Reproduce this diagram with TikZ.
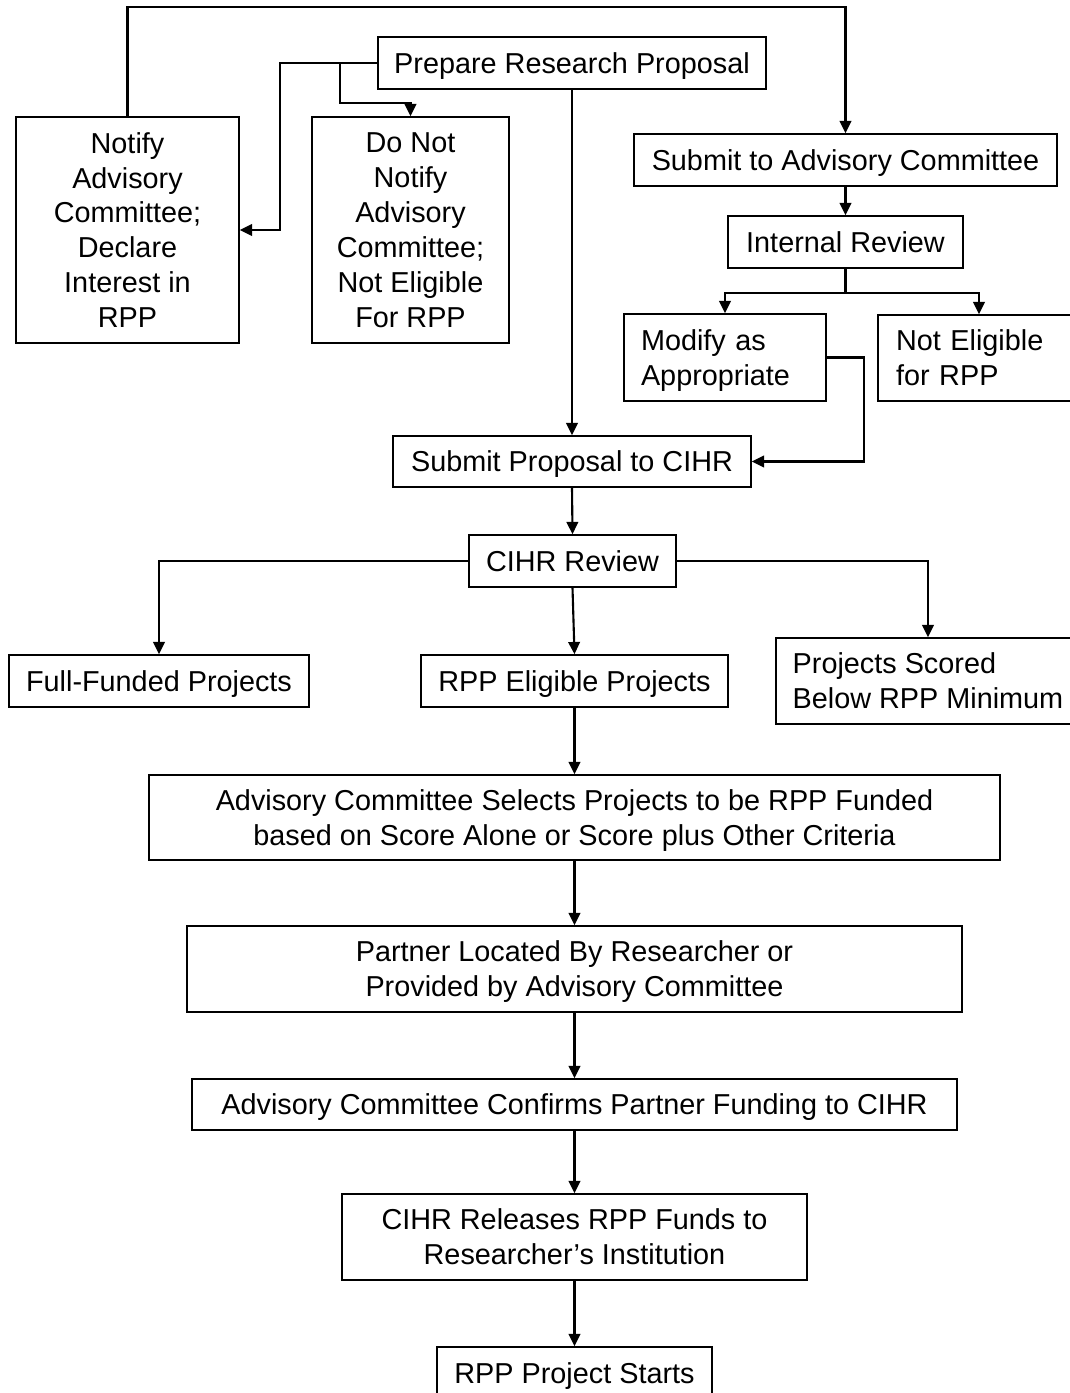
\documentclass[tikz,border=0pt]{standalone}
\usepackage{fontspec}
\setmainfont{Liberation Sans}
\usetikzlibrary{arrows.meta}

\begin{document}
\begin{tikzpicture}[x=0.02cm,y=-0.02cm,
    every node/.style={font=\fontsize{16.4}{19.9}\selectfont},
    box/.style={draw, line width=0.9pt, inner sep=0pt, text depth=0pt, align=center},
    lbox/.style={box, align=left, text depth=19.9pt},
    arr/.style={line width=1.2pt, -{Triangle[length=7pt,width=6.6pt]}}]
    \useasboundingbox (0,0) rectangle (1070,1393);
    \clip (0,0) rectangle (1070,1393);

    \node[box, minimum width=7.76cm, minimum height=1.04cm] (prep) at (572,63) {Prepare Research Proposal};
    \node[box, minimum width=4.46cm, minimum height=4.52cm] (notify) at (127.5,230)
      {Notify\\Advisory\\Committee;\\Declare\\Interest in\\RPP};
    \node[box, minimum width=3.94cm, minimum height=4.52cm] (donot) at (410.5,230)
      {Do Not\\Notify\\Advisory\\Committee;\\Not Eligible\\For RPP};
    \node[box, minimum width=8.46cm, minimum height=1.04cm] (subac) at (845.5,160) {Submit to Advisory Committee};
    \node[box, minimum width=4.7cm, minimum height=1.04cm] (intrev) at (845.5,242) {Internal Review};
    \node[lbox, text width=3.36cm, minimum width=4.04cm, minimum height=1.74cm] (modify) at (725,357.5)
      {Modify as\\Appropriate};
    \node[lbox, text width=3.32cm, minimum width=4.04cm, minimum height=1.72cm] (notel) at (979,358)
      {Not Eligible\\for RPP};
    \node[box, minimum width=7.16cm, minimum height=1.02cm] (subcihr) at (572,461.5) {Submit Proposal to CIHR};
    \node[box, minimum width=4.14cm, minimum height=1.04cm] (cihr) at (572.5,561) {CIHR Review};
    \node[box, minimum width=6.0cm, minimum height=1.04cm] (full) at (159,681) {Full-Funded Projects};
    \node[box, minimum width=6.14cm, minimum height=1.04cm] (rppel) at (574.5,681) {RPP Eligible Projects};
    \node[box, align=left, minimum width=6.08cm, minimum height=1.72cm] (below) at (928,681)
      {Projects Scored\\Below RPP Minimum};
    \node[box, minimum width=17.02cm, minimum height=1.7cm] (select) at (574.5,817.5)
      {Advisory Committee Selects Projects to be RPP Funded\\based on Score Alone or Score plus Other Criteria};
    \node[box, minimum width=15.5cm, minimum height=1.72cm] (partner) at (574.5,969)
      {Partner Located By Researcher or\\Provided by Advisory Committee};
    \node[box, minimum width=15.3cm, minimum height=1.02cm] (confirm) at (574.5,1104.5)
      {Advisory Committee Confirms Partner Funding to CIHR};
    \node[box, minimum width=9.3cm, minimum height=1.72cm] (release) at (574.5,1237)
      {CIHR Releases RPP Funds to\\Researcher’s Institution};
    \node[box, minimum width=5.5cm, minimum height=1.04cm] (starts) at (574.5,1373) {RPP Project Starts};

    \draw[arr] (notify.north) -- ++(0,-109) -| (subac.north);
    \draw[arr] (prep.west) -- ++(-97,0) |- (notify.east);
    \draw[arr] (prep.west) ++(-37,0) -- ++(0,40) -| (donot.north);
    \draw[arr] (prep.south) -- (subcihr.north);
    \draw[arr] (subac.south) -- (intrev.north);
    \draw[arr] (intrev.south) -- ++(0,24) -| (modify.north);
    \draw[arr] (intrev.south) -- ++(0,24) -| (notel.north);
    \draw[arr] (modify.east) -- ++(37,0) |- (subcihr.east);
    \draw[arr] (subcihr.south) -- (cihr.north);
    \draw[arr] (cihr.west) -| (full.north);
    \draw[arr] (cihr.south) -- (rppel.north);
    \draw[arr] (cihr.east) -| (below.north);
    \draw[arr] (rppel.south) -- (select.north);
    \draw[arr] (select.south) -- (partner.north);
    \draw[arr] (partner.south) -- (confirm.north);
    \draw[arr] (confirm.south) -- (release.north);
    \draw[arr] (release.south) -- (starts.north);
  \end{tikzpicture}
\end{document}
